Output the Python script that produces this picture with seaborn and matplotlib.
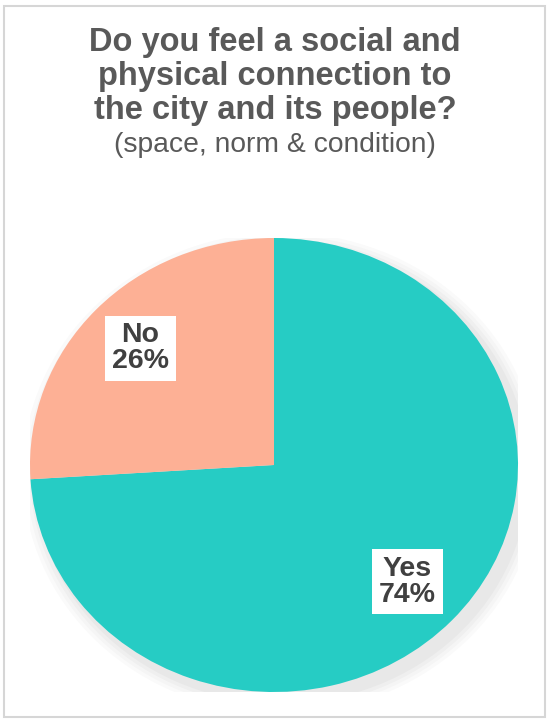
import matplotlib
matplotlib.use('Agg')
import matplotlib.pyplot as plt
import seaborn as sns
from matplotlib.patches import Ellipse, Rectangle

# --- Data ---
answers = ['Yes', 'No']
shares = [74, 26]
slice_colors = ['#26CCC4', '#FDB095']

title = 'Do you feel a social and\nphysical connection to\nthe city and its people?'
subtitle = '(space, norm & condition)'

# --- Style ---
sns.set_theme(style='white')
plt.rcParams['font.family'] = ['Liberation Sans', 'DejaVu Sans']

fig = plt.figure(figsize=(5.5, 7.23), dpi=100)
fig.patch.set_facecolor('white')

# light frame around the whole card
fig.add_artist(Rectangle((4 / 550, 6 / 723), 541 / 550, 711 / 723, transform=fig.transFigure,
                         facecolor='none', edgecolor='#d6d6d6', linewidth=1.5))

# titles
fig.text(0.5, 0.962, title, ha='center', va='top', fontsize=23.5, fontweight='bold',
         color='#595959', linespacing=1.11)
fig.text(0.5, 0.799, subtitle, ha='center', va='center', fontsize=20.3, color='#595959')

# pie axes (slightly elliptical, as in the reference)
ax = fig.add_axes([30 / 550, 31 / 723, 488 / 550, 454 / 723])

# soft shadow under the pie
for i, a in enumerate([0.04, 0.04, 0.05, 0.06]):
    grow = 0.06 - i * 0.015
    ax.add_patch(Ellipse((0.03, -0.035), 2 + grow * 2, 2 + grow * 2, facecolor='#808080',
                         edgecolor='none', alpha=a, zorder=0))

wedges, texts = ax.pie(shares, labels=[f'{a}\n{s}%' for a, s in zip(answers, shares)],
                       colors=slice_colors, startangle=90, counterclock=False,
                       labeldistance=0.75, wedgeprops=dict(linewidth=0),
                       textprops=dict(fontsize=20.5, fontweight='bold', color='#404040'))
for w in wedges:
    w.set_zorder(2)
for t in texts:
    t.set_ha('center')
    t.set_va('center')
    t.set_linespacing(1.0)
    t.set_zorder(3)
    t.set_bbox(dict(facecolor='white', edgecolor='none', pad=5))

ax.set_aspect('auto')
ax.set_xlim(-1, 1)
ax.set_ylim(-1, 1)
ax.axis('off')

fig.savefig('out.png', dpi=100)
